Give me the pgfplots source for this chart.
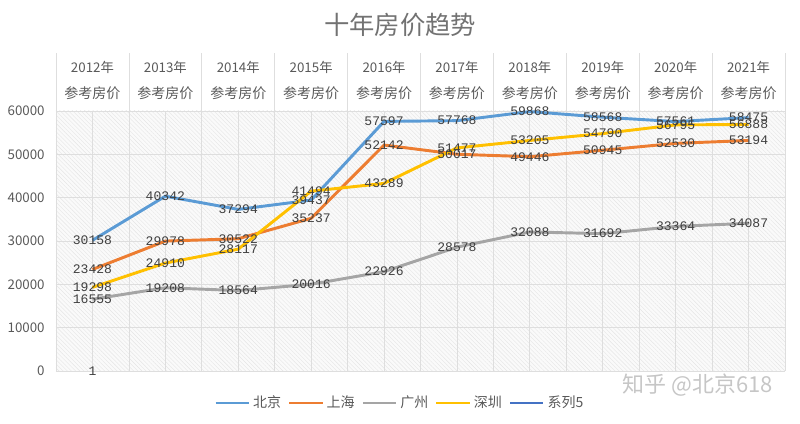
\documentclass[border=0pt]{standalone}
\usepackage{pgfplots}
\pgfplotsset{compat=1.18}
\usepackage{pgfplotstable}
\usepackage{fontspec}
\setmainfont{Noto Sans CJK SC}
\newfontfamily\mono{Liberation Mono}
\usetikzlibrary{patterns.meta}
\definecolor{cBJ}{HTML}{5B9BD5}
\definecolor{cSH}{HTML}{ED7D31}
\definecolor{cGZ}{HTML}{A5A5A5}
\definecolor{cSZ}{HTML}{FFC000}
\definecolor{cX5}{HTML}{4472C4}
\definecolor{txt}{HTML}{595959}
\definecolor{gridc}{HTML}{DEDEDE}
\definecolor{lab}{HTML}{404040}

\pgfplotstableread{
x y
0.5 30158
1.5 40342
2.5 37294
3.5 39437
4.5 57597
5.5 57768
6.5 59868
7.5 58568
8.5 57561
9.5 58475
}\bj
\pgfplotstableread{
x y
0.5 23428
1.5 29978
2.5 30522
3.5 35237
4.5 52142
5.5 50017
6.5 49446
7.5 50945
8.5 52530
9.5 53194
}\sh
\pgfplotstableread{
x y
0.5 16555
1.5 19208
2.5 18564
3.5 20016
4.5 22926
5.5 28578
6.5 32088
7.5 31692
8.5 33364
9.5 34087
}\gz
\pgfplotstableread{
x y
0.5 19298
1.5 24910
2.5 28117
3.5 41494
4.5 43289
5.5 51477
6.5 53205
7.5 54790
8.5 56795
9.5 56888
}\sz
\pgfplotstableread{
x y
0.5 1
}\xv

\begin{document}
\begin{tikzpicture}
\path[use as bounding box] (0,0) rectangle (600pt,318pt);
\node[text=txt!85, font=\fontsize{19}{19}\selectfont] at (300pt,299.25pt) {十年房价趋势};
\node[text=gray!45, font=\fontsize{16.5}{16.5}\selectfont] at (523.5pt,29.25pt) {知乎 @北京618};
\begin{axis}[
  at={(42pt,39.75pt)}, anchor=south west,
  scale only axis, width=546.75pt, height=195pt,
  xmin=0, xmax=10, ymin=0, ymax=60000,
  clip=false,
  axis line style={draw=none},
  axis background/.style={fill=gray!4, postaction={pattern={Lines[angle=-45,distance=2.2pt,line width=0.3pt]}, pattern color=gray!20}},
  xtick={0,1,...,10}, minor xtick={0.5,1.5,...,9.5},
  xticklabels={},
  ytick={0,10000,...,60000},
  grid=both,
  major grid style={gridc, line width=0.6pt},
  minor grid style={gridc, line width=0.6pt},
  major tick length=0pt, minor tick length=0pt,
  scaled y ticks=false,
  yticklabel style={text=txt, font=\fontsize{10}{10}\selectfont, xshift=-5pt,
    /pgf/number format/1000 sep={}, /pgf/number format/assume math mode=true},
  legend columns=-1,
  legend style={at={(0.472,-0.123)}, anchor=center, draw=none, fill=none,
    font=\fontsize{10.5}{10.5}\selectfont, text=txt,
    /tikz/every even column/.append style={column sep=3pt}},
  legend image code/.code={\draw[#1] (0pt,0pt) -- (25pt,0pt);},
  every axis plot/.append style={line width=2.2pt, line join=round},
  every node near coord/.append style={anchor=center, font=\mono\fontsize{9.8}{10}\selectfont, text=lab},
]
\pgfplotsinvokeforeach{0,...,10}{
  \draw[gridc, line width=0.6pt] (axis cs:#1,60000) -- ++(0pt,43.5pt);
}
\pgfplotsinvokeforeach{0,...,9}{
  \node[text=txt, font=\fontsize{10}{10}\selectfont] at ([yshift=33pt]axis cs:#1+0.5,60000) {\the\numexpr2012+#1\relax 年};
  \node[text=txt, font=\fontsize{10.5}{10.5}\selectfont] at ([yshift=13.5pt]axis cs:#1+0.5,60000) {参考房价};
}
\addplot[cBJ] table[x=x,y=y]{\bj};
\addlegendentry{北京}
\addplot[cSH] table[x=x,y=y]{\sh};
\addlegendentry{上海}
\addplot[cGZ] table[x=x,y=y]{\gz};
\addlegendentry{广州}
\addplot[cSZ] table[x=x,y=y]{\sz};
\addlegendentry{深圳}
\addplot[cX5] table[x=x,y=y]{\xv};
\addlegendentry{系列5}
\addplot[draw=none, forget plot, nodes near coords, point meta=explicit symbolic] table[x=x,y=y,meta=y]{\bj};
\addplot[draw=none, forget plot, nodes near coords, point meta=explicit symbolic] table[x=x,y=y,meta=y]{\sh};
\addplot[draw=none, forget plot, nodes near coords, point meta=explicit symbolic] table[x=x,y=y,meta=y]{\gz};
\addplot[draw=none, forget plot, nodes near coords, point meta=explicit symbolic] table[x=x,y=y,meta=y]{\sz};
\addplot[draw=none, forget plot, nodes near coords, point meta=explicit symbolic] table[x=x,y=y,meta=y]{\xv};
\end{axis}
\end{tikzpicture}
\end{document}
